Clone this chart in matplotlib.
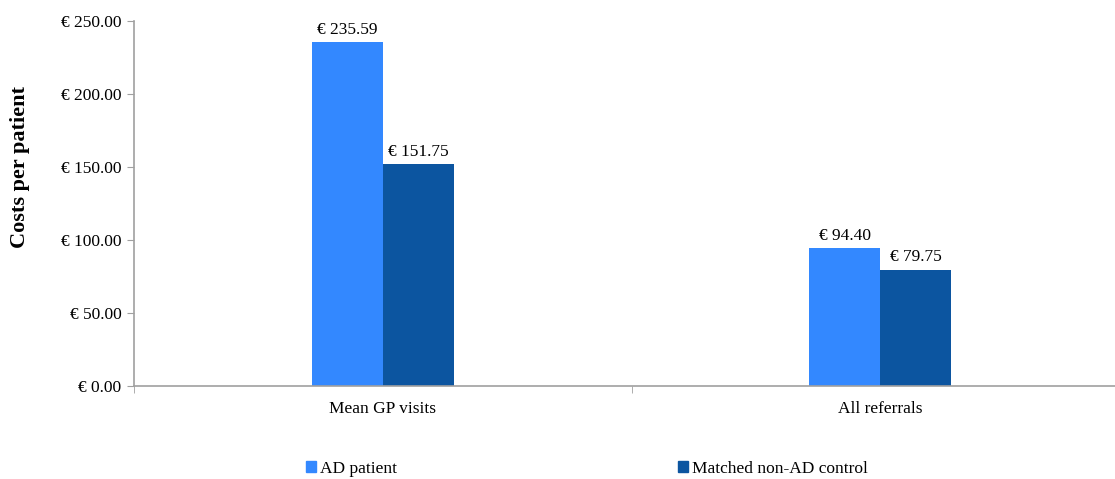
import matplotlib.pyplot as plt
import matplotlib.patches as mpatches

# data
categories = ['Mean GP visits', 'All referrals']
ad_patient = [235.59, 94.40]
control = [151.75, 79.75]
series_names = ['AD patient', 'Matched non-AD control']
yticks = [0, 50, 100, 150, 200, 250]

plt.rcParams['font.family'] = 'Liberation Serif'

fig = plt.figure(figsize=(11.15, 4.79), dpi=100)
ax = fig.add_axes([134/1115, 1 - 386/479, 995/1115, 365/479])

c_ad = '#3388FF'
c_ctrl = '#0C55A0'
fs = 12.5
w = 0.143
x = range(len(categories))

b1 = ax.bar([i - w/2 for i in x], ad_patient, w, color=c_ad)
b2 = ax.bar([i + w/2 for i in x], control, w, color=c_ctrl)

for bars, vals in [(b1, ad_patient), (b2, control)]:
    for b, v in zip(bars, vals):
        ax.text(b.get_x() + b.get_width()/2, v + 3, '€ %.2f' % v,
                ha='center', va='bottom', fontsize=fs)

ax.set_xlim(-0.5, 1.5)
ax.set_ylim(0, 250)
ax.set_yticks(yticks)
ax.set_yticklabels(['€ %.2f' % t for t in yticks], fontsize=fs)
ax.set_xticks(list(x))
ax.set_xticklabels(categories, fontsize=fs)
ax.set_xticks([-0.5, 0.5, 1.5], minor=True)
ax.tick_params(axis='x', which='major', length=0, pad=11)
ax.tick_params(axis='x', which='minor', length=5, color='#A0A0A0')
ax.tick_params(axis='y', length=5, color='#A0A0A0', pad=4)

for s in ['top', 'right']:
    ax.spines[s].set_visible(False)
for s in ['left', 'bottom']:
    ax.spines[s].set_color('#A0A0A0')
    ax.spines[s].set_linewidth(1.2)

fig.text(20/1115, 1 - 167/479, 'Costs per patient', rotation=90,
         ha='center', va='center', fontsize=16, fontweight='bold')

handles = [mpatches.Patch(color=c_ad), mpatches.Patch(color=c_ctrl)]
fig.legend(handles, series_names, loc='center left', ncol=2,
           bbox_to_anchor=(297/1115, 1 - 469/479), frameon=False,
           fontsize=fs, handlelength=0.6, handleheight=0.6,
           handletextpad=0.2, columnspacing=16.2, borderpad=0)

fig.savefig('out.png', dpi=100)
